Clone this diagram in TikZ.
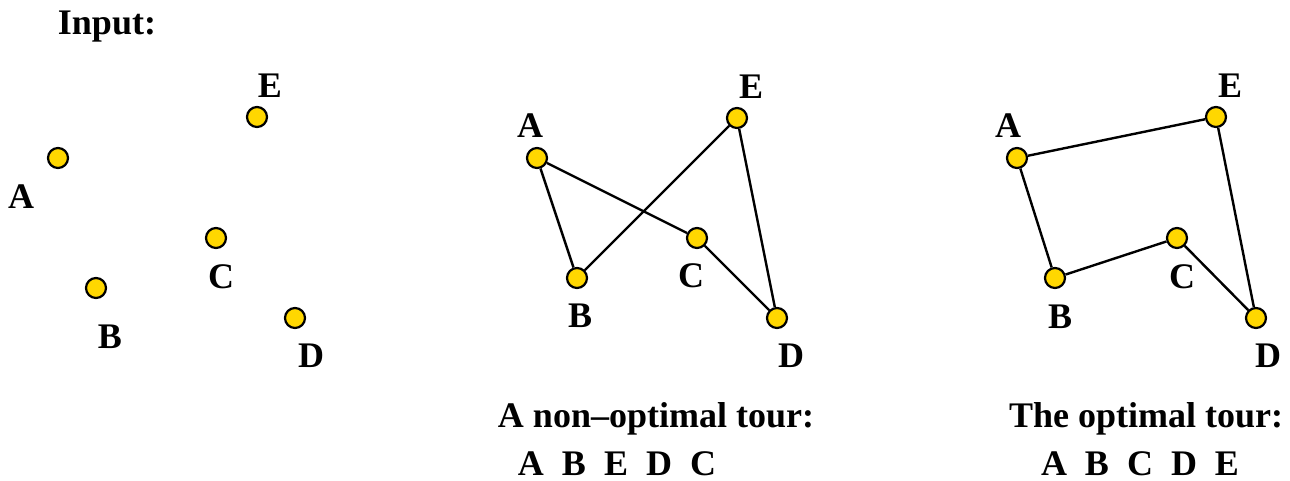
\documentclass[tikz,border=0pt]{standalone}
\usepackage{fontspec}
\setmainfont{Liberation Serif}
\usetikzlibrary{positioning}
\definecolor{dotgold}{RGB}{255,215,0}

\begin{document}
\begin{tikzpicture}[
        x=1pt, y=-1pt,
        dot/.style={circle, draw, fill=dotgold, line width=2.2pt, minimum size=20pt, inner sep=0pt},
        lbl/.style={anchor=base, inner sep=0pt, font=\fontsize{36}{42}\selectfont\bfseries},
        tour/.style={line width=2.4pt}
    ]
        \useasboundingbox (0,0) rectangle (1290,481);

        % input points
        \node[lbl] (intitle) at (107,35) {Input:};
        \node[dot] (inA) at (58,158) {};
        \node[dot] (inB) at (96,288) {};
        \node[dot] (inC) at (216,238) {};
        \node[dot] (inD) at (295,318) {};
        \node[dot] (inE) at (257,117) {};
        \node[lbl] (inAl) at (21,208) {A};
        \node[lbl] (inBl) at (110,348) {B};
        \node[lbl] (inCl) at (221,288) {C};
        \node[lbl] (inDl) at (311,367) {D};
        \node[lbl] (inEl) at (270,98) {E};

        % non-optimal tour
        \node[dot] (nA) at (537,158) {};
        \node[dot] (nB) at (577,278) {};
        \node[dot] (nC) at (697,238) {};
        \node[dot] (nD) at (777,318) {};
        \node[dot] (nE) at (737,118) {};
        \node[lbl] (nAl) at (530,138) {A};
        \node[lbl] (nBl) at (580,327) {B};
        \node[lbl] (nCl) at (691,287) {C};
        \node[lbl] (nDl) at (791,367) {D};
        \node[lbl] (nEl) at (751,99) {E};
        \draw[tour] (nA) -- (nB);
        \draw[tour] (nB) -- (nE);
        \draw[tour] (nE) -- (nD);
        \draw[tour] (nD) -- (nC);
        \draw[tour] (nC) -- (nA);
        \node[lbl] (ntitle) at (656,427) {A non–optimal tour:};
        \node[lbl] (norder) at (617,475) {A~~B~~E~~D~~C};

        % optimal tour
        \node[dot] (oA) at (1017,158) {};
        \node[dot] (oB) at (1055,278) {};
        \node[dot] (oC) at (1177,238) {};
        \node[dot] (oD) at (1256,318) {};
        \node[dot] (oE) at (1216,117) {};
        \node[lbl] (oAl) at (1008,138) {A};
        \node[lbl] (oBl) at (1060,328) {B};
        \node[lbl] (oCl) at (1182,288) {C};
        \node[lbl] (oDl) at (1268,367) {D};
        \node[lbl] (oEl) at (1230,98) {E};
        \draw[tour] (oA) -- (oB);
        \draw[tour] (oB) -- (oC);
        \draw[tour] (oC) -- (oD);
        \draw[tour] (oD) -- (oE);
        \draw[tour] (oE) -- (oA);
        \node[lbl] (otitle) at (1146,427) {The optimal tour:};
        \node[lbl] (oorder) at (1140,475) {A~~B~~C~~D~~E};
    \end{tikzpicture}
\end{document}
